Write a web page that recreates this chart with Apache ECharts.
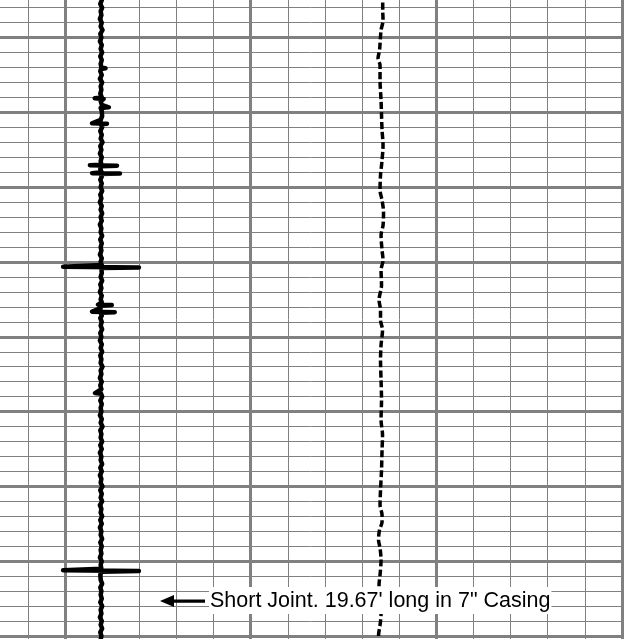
<!DOCTYPE html>
<html>
<head>
<meta charset="utf-8">
<script src="https://cdn.jsdelivr.net/npm/echarts@6/dist/echarts.min.js"></script>
<style>
html,body{margin:0;padding:0;background:#fff;}
#chart{width:638px;height:639px;}
</style>
</head>
<body>
<div id="chart"></div>
<script>
// Casing collar locator trace: [depth (ft, relative to first heavy line), reading]
const cclTrace = [
[-3.0,9.8],[-2.75,9.4],[-2.5,9.9],[-2.25,9.5],[-2.0,10.0],[-1.75,9.6],[-1.5,9.8],[-1.25,9.4],[-1.0,9.9],[-0.75,9.6],
[-0.5,10.1],[-0.25,9.5],[0.0,9.8],[0.25,9.4],[0.5,9.9],[0.75,9.6],[1.0,10.0],[1.25,9.5],[1.5,9.9],[1.75,9.6],
[2.0,9.8],[2.05,10.9],[2.1,9.7],[2.25,9.5],[2.5,9.9],[2.75,9.4],[3.0,10.0],[3.25,9.6],[3.5,9.8],[3.75,9.5],
[4.0,9.9],[4.06,8.0],[4.1,10.4],[4.25,9.6],[4.5,9.9],[4.66,11.8],[4.7,9.6],[4.9,9.9],[5.0,9.5],[5.25,10.0],
[5.5,9.6],[5.73,7.3],[5.76,11.3],[5.8,9.7],[6.0,10.0],[6.25,9.5],[6.5,9.9],[6.75,9.6],[7.0,10.1],[7.25,9.5],
[7.5,9.8],[7.75,9.4],[8.0,9.9],[8.25,9.6],[8.5,9.8],[8.53,6.7],[8.56,14.0],[8.6,9.7],[8.8,9.5],[9.0,9.9],
[9.06,7.3],[9.09,14.8],[9.12,9.6],[9.3,9.9],[9.5,9.5],[9.75,9.9],[10.0,9.6],[10.25,10.0],[10.5,9.5],[10.75,9.8],
[11.0,9.4],[11.25,9.9],[11.5,9.6],[11.75,10.0],[12.0,9.6],[12.25,9.9],[12.5,9.4],[12.75,9.8],[13.0,9.6],[13.25,10.0],
[13.5,9.5],[13.75,9.9],[14.0,9.6],[14.25,9.8],[14.5,9.4],[14.75,9.9],[15.0,9.6],[15.2,9.9],[15.30,9.7],[15.32,-0.5],
[15.36,19.9],[15.40,9.8],[15.5,9.5],[15.75,9.9],[16.0,9.6],[16.25,10.0],[16.5,9.5],[16.75,9.8],[17.0,9.4],[17.25,9.9],
[17.5,9.6],[17.7,9.9],[17.85,8.9],[17.88,12.6],[17.92,9.7],[18.1,9.5],[18.32,7.3],[18.36,13.4],[18.4,9.6],[18.6,9.9],
[18.75,9.5],[19.0,9.9],[19.25,9.6],[19.5,10.0],[19.75,9.5],[20.0,9.8],[20.25,9.4],[20.5,9.9],[20.75,9.6],[21.0,10.0],
[21.25,9.5],[21.5,9.8],[21.75,9.6],[22.0,10.1],[22.25,9.6],[22.5,9.8],[22.75,9.4],[23.0,9.9],[23.25,9.5],[23.5,9.8],
[23.76,8.1],[23.8,9.7],[24.0,10.0],[24.25,9.5],[24.5,9.9],[24.75,9.6],[25.0,9.8],[25.25,9.4],[25.5,9.9],[25.75,9.6],
[26.0,10.1],[26.25,9.5],[26.5,9.8],[26.75,9.6],[27.0,10.0],[27.25,9.5],[27.5,9.9],[27.75,9.4],[28.0,9.8],[28.25,9.6],
[28.5,10.0],[28.75,9.5],[29.0,9.9],[29.25,9.4],[29.5,9.8],[29.75,9.6],[30.0,10.1],[30.25,9.5],[30.5,9.9],[30.75,9.6],
[31.0,10.0],[31.25,9.4],[31.5,9.8],[31.75,9.6],[32.0,10.0],[32.25,9.5],[32.5,9.9],[32.75,9.4],[33.0,9.8],[33.25,9.6],
[33.5,10.0],[33.75,9.5],[34.0,9.9],[34.25,9.6],[34.5,9.8],[34.75,9.4],[35.0,9.9],[35.25,9.6],[35.5,9.8],[35.61,-0.5],
[35.65,19.9],[35.7,9.8],[35.9,9.5],[36.0,9.9],[36.25,9.6],[36.5,10.0],[36.75,9.5],[37.0,9.8],[37.25,9.6],[37.5,9.9],
[37.75,9.5],[38.0,10.0],[38.25,9.6],[38.5,9.8],[38.75,9.4],[39.0,9.9],[39.25,9.6],[39.5,10.0],[39.75,9.5],[40.0,9.8],
[40.25,9.6],[40.5,9.9],[40.75,9.5],[41.0,9.8]
];

// Dashed curve (right track)
const gammaDepth = [-3.0,-2.49,-1.82,-1.16,-0.49,0.85,1.38,1.85,2.85,4.19,5.19,6.19,7.19,8.20,9.20,10.20,10.87,11.67,12.54,13.21,14.21,14.88,15.54,16.54,17.55,18.21,18.88,19.55,20.55,21.55,22.89,24.23,25.56,26.57,27.57,28.90,30.24,31.24,31.91,32.38,32.91,33.58,34.11,34.92,35.92,36.58,38.59,39.26,39.99,41.0];
const gammaValue = [85.6,85.56,85.56,85.65,85.11,84.70,84.30,84.84,84.84,85.11,85.24,85.38,85.65,85.38,84.97,84.84,85.38,85.78,85.65,85.11,85.38,85.65,85.11,85.24,84.57,84.97,84.97,85.51,85.11,84.97,85.11,85.24,85.11,85.51,85.38,85.24,84.97,84.84,85.38,85.38,84.70,84.43,84.84,85.11,84.84,84.57,85.11,84.84,84.43,84.6];

const annotationText = 'Short Joint. 19.67\' long in 7" Casing';

const GRID_COLOR = '#808080';
const cclData = cclTrace.map(p => [p[1], p[0]]);
const gammaData = gammaDepth.map((d, i) => [gammaValue[i], d]);

const hidden = {axisLine:{show:false}, axisTick:{show:false}, axisLabel:{show:false}};
const gb = {outerBoundsMode: 'none', containLabel: false};

const chart = echarts.init(document.getElementById('chart'), null, {renderer:'canvas'});
chart.setOption({
  animation: false,
  backgroundColor: '#ffffff',
  grid: [
    Object.assign({left: -9.26, top: -7.28, width: 631.26, height: 658.24}, gb),   // fine grid
    Object.assign({left: -9.26, top: 37.6, width: 631.26, height: 598.4}, gb),     // heavy horizontals
    Object.assign({left: 65, top: -7.28, width: 557, height: 658.24}, gb)          // heavy verticals
  ],
  xAxis: [
    Object.assign({type:'value', gridIndex:0, min:-20, max:150, interval:10,
      splitLine:{show:true, lineStyle:{color:GRID_COLOR, width:1}}}, hidden),
    Object.assign({type:'value', gridIndex:1, min:0, max:150, interval:50,
      splitLine:{show:false}}, hidden),
    Object.assign({type:'value', gridIndex:2, min:0, max:150, interval:50,
      splitLine:{show:true, lineStyle:{color:GRID_COLOR, width:3}}}, hidden)
  ],
  yAxis: [
    Object.assign({type:'value', gridIndex:0, min:-3, max:41, interval:1, inverse:true,
      splitLine:{show:true, lineStyle:{color:GRID_COLOR, width:1}}}, hidden),
    Object.assign({type:'value', gridIndex:1, min:0, max:40, interval:5, inverse:true,
      splitLine:{show:true, lineStyle:{color:GRID_COLOR, width:3}}}, hidden),
    Object.assign({type:'value', gridIndex:2, min:0, max:40, interval:5, inverse:true,
      splitLine:{show:false}}, hidden)
  ],
  series: [
    {
      type: 'line', xAxisIndex: 0, yAxisIndex: 0, data: cclData,
      showSymbol: false, symbol: 'none',
      lineStyle: {color: '#000', width: 4.5, join: 'round', cap: 'butt'},
      z: 5
    },
    {
      type: 'line', xAxisIndex: 0, yAxisIndex: 0, data: gammaData,
      showSymbol: false, symbol: 'none', smooth: 0.3,
      lineStyle: {color: '#000', width: 3.5, type: [7, 3]},
      z: 5
    }
  ],
  graphic: [
    {
      type: 'polygon', z: 100,
      shape: {points: [[160, 601], [174, 595], [174, 607]]},
      style: {fill: '#000'}
    },
    {
      type: 'rect', z: 100,
      shape: {x: 172, y: 599.5, width: 33, height: 3.2},
      style: {fill: '#000'}
    },
    {
      type: 'text', z: 100, left: 209, top: 587,
      style: {
        text: annotationText,
        font: '21.5px "Liberation Sans", Arial, sans-serif',
        fill: '#000',
        backgroundColor: '#fff',
        padding: [3, 1, 2, 1]
      }
    }
  ]
});
</script>
</body>
</html>
